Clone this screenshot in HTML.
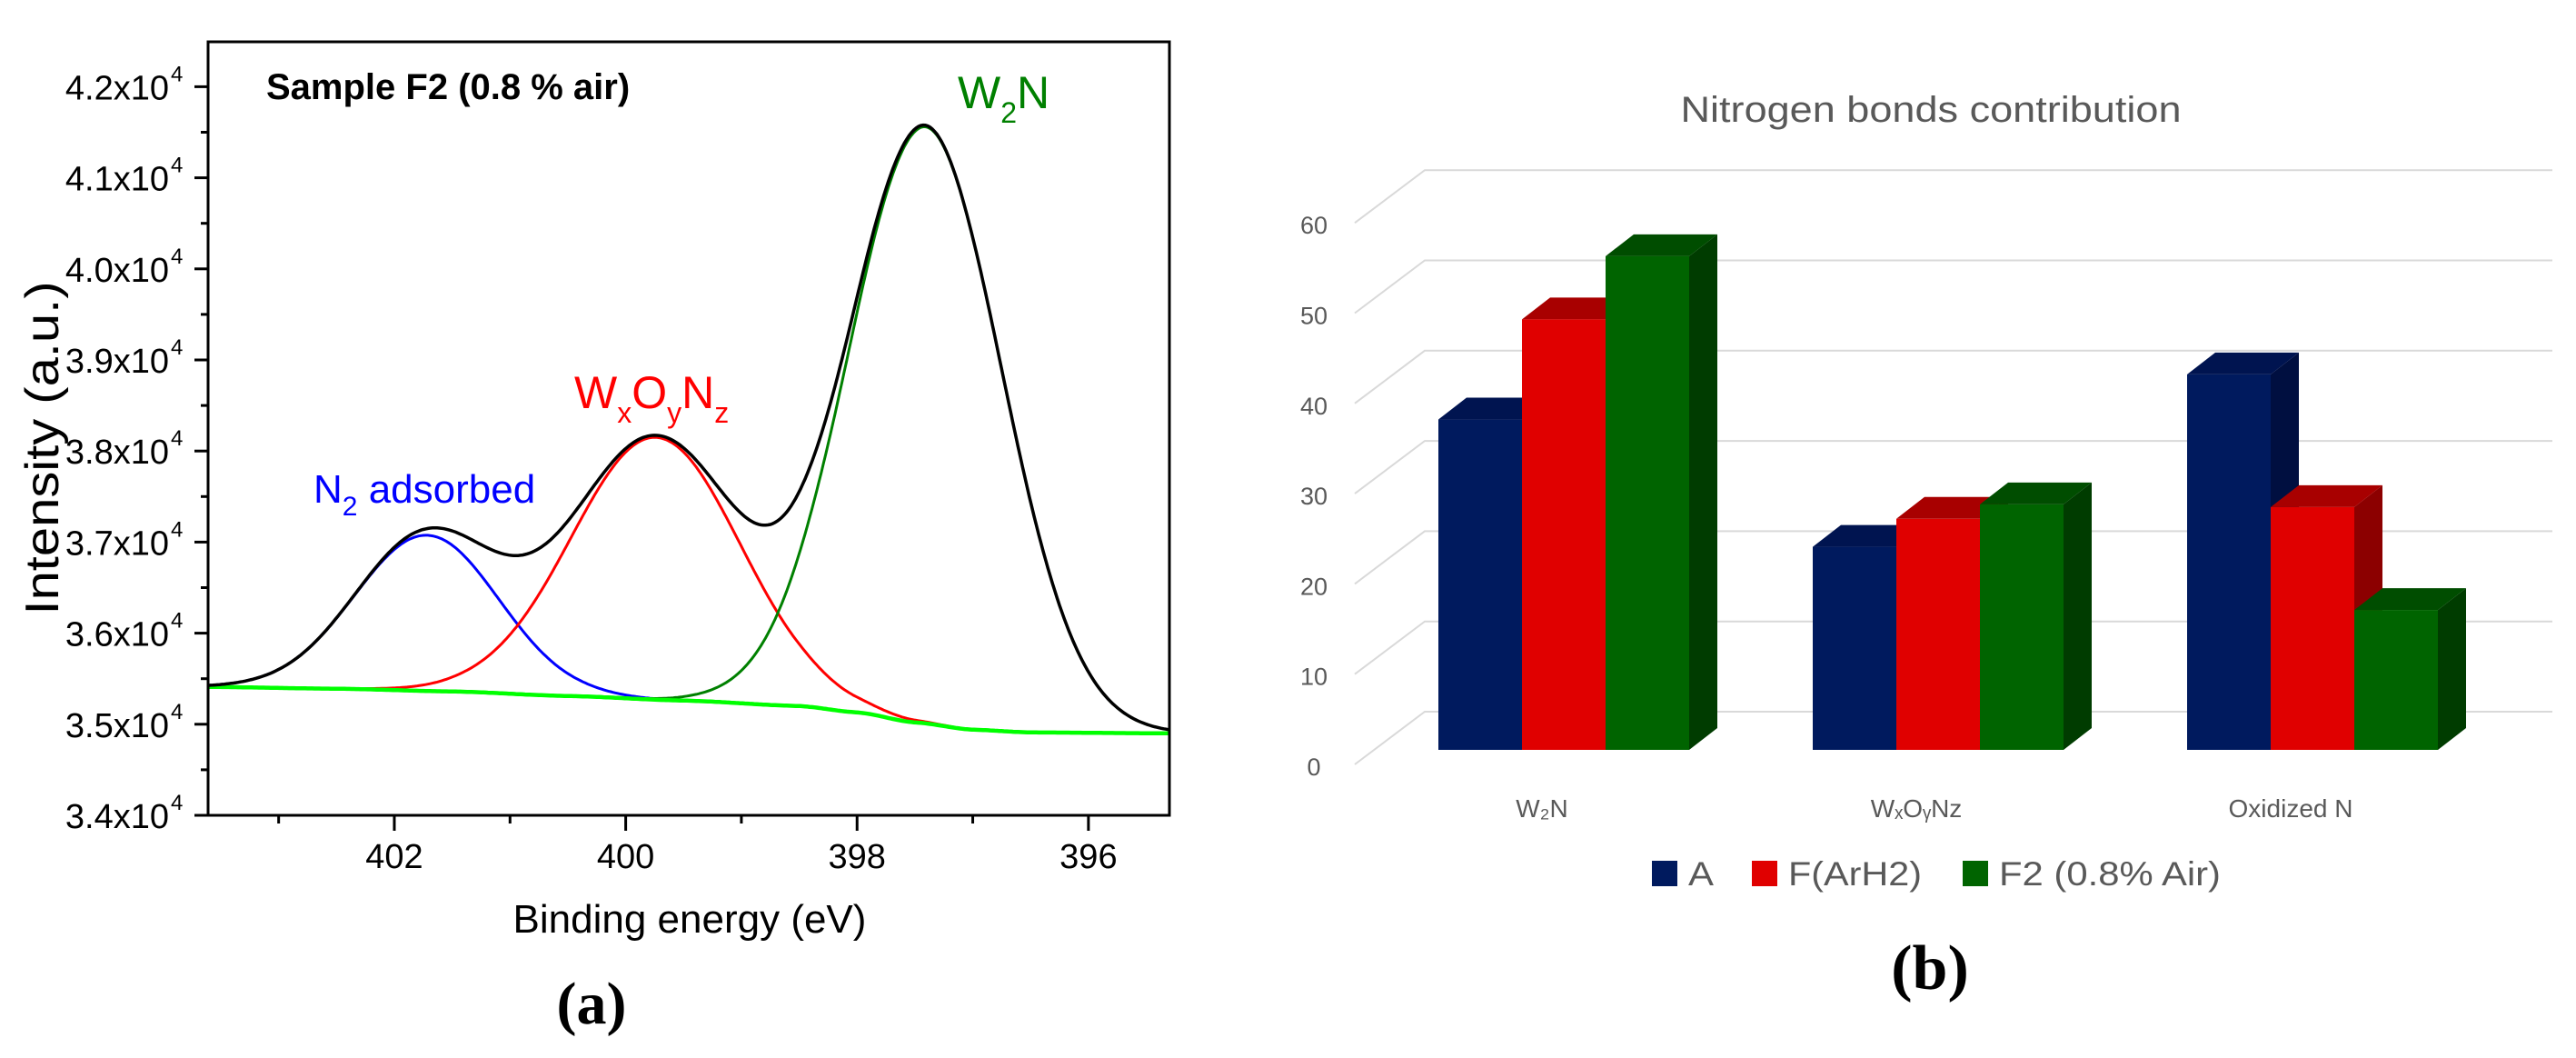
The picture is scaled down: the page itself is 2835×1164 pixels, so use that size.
<!DOCTYPE html>
<html><head><meta charset="utf-8"><style>
html,body{margin:0;padding:0;background:#fff;}
svg{display:block;}
</style></head><body>
<svg id="fig" width="2835" height="1164" viewBox="0 0 2835 1164" xmlns="http://www.w3.org/2000/svg">
<g id="left"></g>
<g id="right"></g>
</svg>
<script>
// ---------- Panel (a) data ----------
const xTicks = [402, 400, 398, 396];
const xMinorTicks = [403, 401, 399, 397];
const yTicks = [3.4, 3.5, 3.6, 3.7, 3.8, 3.9, 4.0, 4.1, 4.2];
const yTickLabels = ["3.4x10", "3.5x10", "3.6x10", "3.7x10", "3.8x10", "3.9x10", "4.0x10", "4.1x10", "4.2x10"];
const baselineE = [403.61, 402.5, 401.5, 400.5, 399.5, 398.5, 398.0, 397.5, 397.0, 396.5, 395.3];
const baselineI = [3.541, 3.539, 3.536, 3.531, 3.526, 3.520, 3.513, 3.502, 3.494, 3.491, 3.490];
const peakNames = ["N2 adsorbed", "WxOyNz", "W2N"];
const peakCenters = [401.72, 399.74, 397.41];
const peakHeights = [0.171, 0.288, 0.655];
const peakSigmas = [0.62, 0.73, 0.66];
const peakColors = ["#0000ff", "#ff0000", "#008000"];

// ---------- Panel (b) data ----------
const categories = ["W₂N", "WₓOᵧNz", "Oxidized N"];
const seriesNames = ["A", "F(ArH2)", "F2 (0.8% Air)"];
const seriesA = [36.6, 22.5, 41.6];
const seriesF = [47.7, 25.6, 26.9];
const seriesF2 = [54.7, 27.2, 15.5];
const barTicks = [0, 10, 20, 30, 40, 50, 60];

const NS = "http://www.w3.org/2000/svg";
function mk(tag, attrs, parent, text) {
  const e = document.createElementNS(NS, tag);
  for (const k in attrs) e.setAttribute(k, attrs[k]);
  if (text !== undefined) e.textContent = text;
  parent.appendChild(e);
  return e;
}

// ===== Panel (a) =====
const L = document.getElementById('left');
const PX0 = 229, PX1 = 1287, PY0 = 46, PY1 = 897;
const E_LEFT = 403.61, E_RIGHT = 395.30;
function xE(E) { return PX0 + (E_LEFT - E) / (E_LEFT - E_RIGHT) * (PX1 - PX0); }
function yI(v) { return 897 - (v - 3.4) * 1002; }
function baseAt(E) {
  for (let i = 0; i < baselineE.length - 1; i++) {
    const a = baselineE[i], b = baselineE[i + 1];
    if (E <= a && E >= b) {
      let t = (a - E) / (a - b);
      t = (1 - Math.cos(t * Math.PI)) / 2 * 0.5 + t * 0.5;
      return baselineI[i] + (baselineI[i + 1] - baselineI[i]) * t;
    }
  }
  return E > baselineE[0] ? baselineI[0] : baselineI[baselineI.length - 1];
}
function peakAt(k, E) { const d = E - peakCenters[k]; return peakHeights[k] * Math.exp(-d * d / (2 * peakSigmas[k] * peakSigmas[k])); }

const clip = mk('clipPath', { id: 'plotclip' }, L);
mk('rect', { x: PX0, y: PY0, width: PX1 - PX0, height: PY1 - PY0 }, clip);
const curves = mk('g', { 'clip-path': 'url(#plotclip)' }, L);



function path(fn) {
  let d = '';
  for (let E = E_LEFT; E >= E_RIGHT - 0.001; E -= 0.02) {
    d += (d ? 'L' : 'M') + xE(E).toFixed(1) + ',' + yI(fn(E)).toFixed(1);
  }
  return d;
}
for (let k = 0; k < peakNames.length; k++) {
  const p = mk('path', { d: path(E => baseAt(E) + peakAt(k, E)), fill: 'none', stroke: peakColors[k], 'stroke-width': 3 }, curves);
  
  
}
const bl = mk('path', { d: path(baseAt), fill: 'none', stroke: '#00ff00', 'stroke-width': 4.5 }, curves);


const env = mk('path', { d: path(E => baseAt(E) + peakAt(0, E) + peakAt(1, E) + peakAt(2, E)), fill: 'none', stroke: '#000', 'stroke-width': 3.5 }, curves);



const frame = mk('rect', { x: PX0, y: PY0, width: PX1 - PX0, height: PY1 - PY0, fill: 'none', stroke: '#000', 'stroke-width': 3 }, L);



for (let i = 0; i < yTicks.length; i++) {
  const y = yI(yTicks[i]);
  const t = mk('line', { x1: PX0 - 15, x2: PX0, y1: y, y2: y, stroke: '#000', 'stroke-width': 3 }, L);
  
  
  if (i < yTicks.length - 1) {
    const ym = yI(yTicks[i] + 0.05);
    const tm = mk('line', { x1: PX0 - 8, x2: PX0, y1: ym, y2: ym, stroke: '#000', 'stroke-width': 3 }, L);
    
    
  }
  const tx = mk('text', { x: 186, y: y + 14, 'text-anchor': 'end', 'font-family': 'Liberation Sans, sans-serif', 'font-size': 38, fill: '#000' }, L, yTickLabels[i]);
  
  
  const sup = mk('text', { x: 188, y: y - 6, 'font-family': 'Liberation Sans, sans-serif', 'font-size': 24, fill: '#000' }, L, '4');
  
  
}
for (const v of xTicks) {
  const x = xE(v);
  const t = mk('line', { x1: x, x2: x, y1: PY1, y2: PY1 + 17, stroke: '#000', 'stroke-width': 3 }, L);
  
  
  const tx = mk('text', { x: x, y: PY1 + 58, 'text-anchor': 'middle', 'font-family': 'Liberation Sans, sans-serif', 'font-size': 38, fill: '#000' }, L, String(v));
  
  
}
for (const v of xMinorTicks) {
  const x = xE(v);
  const t = mk('line', { x1: x, x2: x, y1: PY1, y2: PY1 + 9, stroke: '#000', 'stroke-width': 3 }, L);
  
  
}
const xt = mk('text', { x: 759, y: 1026, 'text-anchor': 'middle', 'font-family': 'Liberation Sans, sans-serif', 'font-size': 44, fill: '#000' }, L, 'Binding energy (eV)');


const yt = mk('text', { x: 0, y: 0, transform: 'translate(64,493) rotate(-90)', 'text-anchor': 'middle', 'font-family': 'Liberation Sans, sans-serif', 'font-size': 52, fill: '#000', textLength: 367, lengthAdjust: 'spacingAndGlyphs' }, L, 'Intensity (a.u.)');


const st = mk('text', { x: 293, y: 109, 'font-family': 'Liberation Sans, sans-serif', 'font-size': 40, 'font-weight': 'bold', fill: '#000' }, L, 'Sample F2 (0.8 % air)');



const a1 = mk('text', { x: 345, y: 553, 'font-family': 'Liberation Sans, sans-serif', 'font-size': 44, fill: '#0000ff' }, L);


mk('tspan', {}, a1, 'N');
mk('tspan', { dy: 14, 'font-size': 30 }, a1, '2');
mk('tspan', { dy: -14 }, a1, ' adsorbed');
const a2 = mk('text', { x: 632, y: 449, 'font-family': 'Liberation Sans, sans-serif', 'font-size': 50, fill: '#ff0000' }, L);


mk('tspan', {}, a2, 'W');
mk('tspan', { dy: 16, 'font-size': 32 }, a2, 'x');
mk('tspan', { dy: -16 }, a2, 'O');
mk('tspan', { dy: 16, 'font-size': 32 }, a2, 'y');
mk('tspan', { dy: -16 }, a2, 'N');
mk('tspan', { dy: 16, 'font-size': 32 }, a2, 'z');
const a3 = mk('text', { x: 1054, y: 119, 'font-family': 'Liberation Sans, sans-serif', 'font-size': 50, fill: '#008000' }, L);


mk('tspan', {}, a3, 'W');
mk('tspan', { dy: 16, 'font-size': 32 }, a3, '2');
mk('tspan', { dy: -16 }, a3, 'N');
const pa = mk('text', { x: 651, y: 1126, 'text-anchor': 'middle', 'font-family': 'Liberation Serif, serif', 'font-size': 66, 'font-weight': 'bold', fill: '#000' }, L, '(a)');



// ===== Panel (b) =====
const R = document.getElementById('right');
const PXV = 9.93;
const BACK0 = 783, FRONT0 = 843, BAR0 = 825;
const GRID_X0 = 1491, GRID_X1 = 1568, GRID_END = 2809;
function yBack(v) { return BACK0 - v * PXV; }
function yFront(v) { return FRONT0 - v * PXV; }
function yBar(v) { return BAR0 - v * PXV; }

const bt = mk('text', { x: 2125, y: 134, 'text-anchor': 'middle', 'font-family': 'Liberation Sans, sans-serif', 'font-size': 40, fill: '#595959', textLength: 551, lengthAdjust: 'spacingAndGlyphs' }, R, 'Nitrogen bonds contribution');



for (const v of barTicks) {
  const g = mk('polyline', { points: `${GRID_X0},${yFront(v) - 2} ${GRID_X1},${yBack(v)} ${GRID_END},${yBack(v)}`, fill: 'none', stroke: '#d9d9d9', 'stroke-width': 2 }, R);
  
  
  const t = mk('text', { x: 1446, y: yFront(v) + 10, 'text-anchor': 'middle', 'font-family': 'Liberation Sans, sans-serif', 'font-size': 27, fill: '#595959' }, R, String(v));
  
  
}

const series = [seriesA, seriesF, seriesF2];
const fronts = ['#001a5e', '#e00000', '#006400'];
const tops = ['#001450', '#a80000', '#004d00'];
const sides = ['#000f40', '#8c0000', '#003c00'];
const groupGap = 412;
const BW = 92, BDX = 31, BDY = 24;
for (let c = 0; c < categories.length; c++) {
  const gx = 1583 + c * groupGap;
  for (let s = 0; s < series.length; s++) {
    const v = series[s][c];
    const x = gx + s * BW, yt2 = yBar(v), yb = BAR0;
    const side = mk('polygon', { points: `${x + BW},${yt2} ${x + BW + BDX},${yt2 - BDY} ${x + BW + BDX},${yb - BDY} ${x + BW},${yb}`, fill: sides[s] }, R);
    
    
    const top = mk('polygon', { points: `${x},${yt2} ${x + BW},${yt2} ${x + BW + BDX},${yt2 - BDY} ${x + BDX},${yt2 - BDY}`, fill: tops[s] }, R);
    
    
    const fr = mk('rect', { x: x, y: yt2, width: BW, height: yb - yt2, fill: fronts[s] }, R);
    
    
  }
  const lab = mk('text', { x: gx + 138 - 24, y: 899, 'text-anchor': 'middle', 'font-family': 'Liberation Sans, sans-serif', 'font-size': 28, fill: '#595959' }, R, categories[c]);
  
  
}

const legX = [1818, 1928, 2160];
const legW = [28, 147, 244];
for (let s = 0; s < seriesNames.length; s++) {
  const sw = mk('rect', { x: legX[s], y: 947, width: 28, height: 28, fill: fronts[s] }, R);
  
  
  const lt = mk('text', { x: legX[s] + 40, y: 974, 'font-family': 'Liberation Sans, sans-serif', 'font-size': 37, fill: '#595959', textLength: legW[s], lengthAdjust: 'spacingAndGlyphs' }, R, seriesNames[s]);
  
  
}
const pb = mk('text', { x: 2124, y: 1088, 'text-anchor': 'middle', 'font-family': 'Liberation Serif, serif', 'font-size': 70, 'font-weight': 'bold', fill: '#000' }, R, '(b)');


</script>
</body></html>
